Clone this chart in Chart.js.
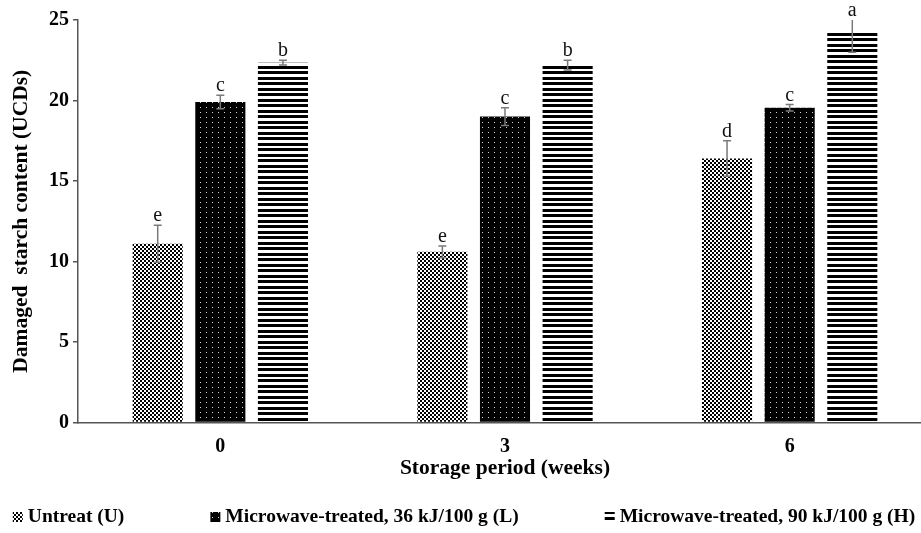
<!DOCTYPE html>
<html>
<head>
<meta charset="utf-8">
<script src="https://cdn.jsdelivr.net/npm/chart.js@4.4.1/dist/chart.umd.min.js"></script>
<style>
  html, body { margin: 0; padding: 0; background: #fff; overflow: hidden; width: 921px; height: 533px; }
  #wrap { position: absolute; left: 0; top: 0; width: 934px; height: 533px; }
</style>
</head>
<body>
<div id="wrap"><canvas id="c" width="934" height="533"></canvas></div>
<script>
// Storage period categories (weeks)
const weeks = ['0', '3', '6'];

// Damaged starch content (UCDs), mean values per treatment
const untreated = [11.1, 10.6, 16.4];
const mw36 = [19.9, 19.0, 19.55];
const mw90 = [22.35, 22.2, 24.35];

// Standard deviations
const untreatedSd = [1.15, 0.37, 1.1];
const mw36Sd = [0.42, 0.55, 0.2];
const mw90Sd = [0.15, 0.3, 1.35];

// Significance letters
const untreatedLetters = ['e', 'e', 'd'];
const mw36Letters = ['c', 'c', 'c'];
const mw90Letters = ['b', 'b', 'a'];

const seriesNames = ['Untreat (U)', 'Microwave-treated, 36 kJ/100 g (L)', 'Microwave-treated, 90 kJ/100 g (H)'];
const yTicks = [0, 5, 10, 15, 20, 25];

const canvas = document.getElementById('c');
const ctx = canvas.getContext('2d');

function makePattern(w, h, paint) {
  const tile = document.createElement('canvas');
  tile.width = w; tile.height = h;
  paint(tile.getContext('2d'));
  return ctx.createPattern(tile, 'repeat');
}

// checkerboard fill for untreated flour
const checker = makePattern(4, 4, g => {
  g.fillStyle = '#fff'; g.fillRect(0, 0, 4, 4);
  g.fillStyle = '#000'; g.fillRect(0, 0, 2, 2); g.fillRect(2, 2, 2, 2);
});
// black with light dots for low dose
const dotted = makePattern(6, 5, g => {
  g.fillStyle = '#000'; g.fillRect(0, 0, 6, 5);
  g.fillStyle = '#d8d8d8'; g.fillRect(2, 2, 1, 1);
});
// horizontal stripes for high dose
const striped = makePattern(8, 11, g => {
  g.fillStyle = '#fff'; g.fillRect(0, 0, 8, 11);
  g.fillStyle = '#000'; g.fillRect(0, 0, 8, 3); g.fillRect(0, 5, 8, 3);
});

const serif = 'Liberation Serif, Times New Roman, serif';

// error bars with letters above each bar
const errorBars = {
  id: 'errorBars',
  afterDatasetsDraw(chart) {
    const { ctx, chartArea, scales: { y } } = chart;
    chart.data.datasets.forEach((ds, i) => {
      const meta = chart.getDatasetMeta(i);
      meta.data.forEach((bar, j) => {
        const v = ds.data[j], e = ds.sd[j];
        const rawTop = y.getPixelForValue(v + e);
        const yTop = Math.max(rawTop, chartArea.top);
        const yBot = y.getPixelForValue(v - e);
        ctx.save();
        ctx.strokeStyle = '#7a7a7a';
        ctx.lineWidth = 1.5;
        ctx.beginPath();
        ctx.moveTo(bar.x, yTop); ctx.lineTo(bar.x, yBot);
        if (rawTop >= chartArea.top) { ctx.moveTo(bar.x - 4, yTop); ctx.lineTo(bar.x + 4, yTop); }
        ctx.moveTo(bar.x - 4, yBot); ctx.lineTo(bar.x + 4, yBot);
        ctx.stroke();
        ctx.fillStyle = '#111';
        ctx.font = '20px ' + serif;
        ctx.textAlign = 'center';
        ctx.textBaseline = 'alphabetic';
        ctx.fillText(ds.letters[j], bar.x, yTop - 4);
        ctx.restore();
      });
    });
  }
};

// single-row legend under the axis title
const bottomLegend = {
  id: 'bottomLegend',
  afterDraw(chart, args, opts) {
    const c = chart.ctx;
    c.save();
    c.font = 'bold 19.5px ' + serif;
    const items = chart.data.datasets.map(ds => ({ label: ds.label, fill: ds.backgroundColor, w: c.measureText(ds.label).width }));
    const box = 10, sep = 5;
    const total = items.reduce((s, it) => s + box + sep + it.w, 0) + opts.gap * (items.length - 1);
    let x = opts.centerX - total / 2;
    const yc = opts.y;
    items.forEach(it => {
      c.fillStyle = it.fill;
      c.fillRect(x, yc - 5, box, box);
      x += box + sep;
      c.fillStyle = '#000';
      c.textAlign = 'left';
      c.textBaseline = 'middle';
      c.fillText(it.label, x, yc);
      x += it.w + opts.gap;
    });
    c.restore();
  }
};

const tickFont = { family: serif, size: 20, weight: 'bold' };
const titleFont = { family: serif, size: 21.5, weight: 'bold' };

new Chart(ctx, {
  type: 'bar',
  data: {
    labels: weeks,
    datasets: [
      { label: seriesNames[0], data: untreated, sd: untreatedSd, letters: untreatedLetters, backgroundColor: checker, borderWidth: 0 },
      { label: seriesNames[1], data: mw36, sd: mw36Sd, letters: mw36Letters, backgroundColor: dotted, borderWidth: 0 },
      { label: seriesNames[2], data: mw90, sd: mw90Sd, letters: mw90Letters, backgroundColor: striped, borderWidth: 0 }
    ]
  },
  options: {
    responsive: false,
    animation: false,
    devicePixelRatio: 1,
    layout: { padding: { left: 0, right: 2, top: 20, bottom: 50 } },
    datasets: { bar: { categoryPercentage: 0.66, barPercentage: 0.8 } },
    plugins: {
      legend: { display: false },
      tooltip: { enabled: false },
      bottomLegend: { centerX: 464, y: 517, gap: 86 }
    },
    scales: {
      x: {
        grid: { display: false, drawTicks: false },
        border: { display: true, color: '#555', width: 1.5 },
        ticks: { padding: 12.5, color: '#000', font: tickFont },
        title: { display: true, text: 'Storage period (weeks)', color: '#000', font: titleFont, padding: { top: 0, bottom: 2 } },
        afterFit(s) { s.height = 60.5; }
      },
      y: {
        min: 0, max: 25,
        afterBuildTicks(s) { s.ticks = yTicks.map(v => ({ value: v })); },
        ticks: { padding: 4, color: '#000', font: tickFont },
        grid: { drawOnChartArea: false, drawTicks: true, tickLength: 5, color: '#555', lineWidth: 1.5 },
        border: { display: true, color: '#555', width: 1.5 },
        title: { display: true, text: 'Damaged  starch content (UCDs)', color: '#000', font: titleFont, padding: { top: 9, bottom: 0 } },
        afterFit(s) { s.width = 78; }
      }
    }
  },
  plugins: [errorBars, bottomLegend]
});
</script>
</body>
</html>
